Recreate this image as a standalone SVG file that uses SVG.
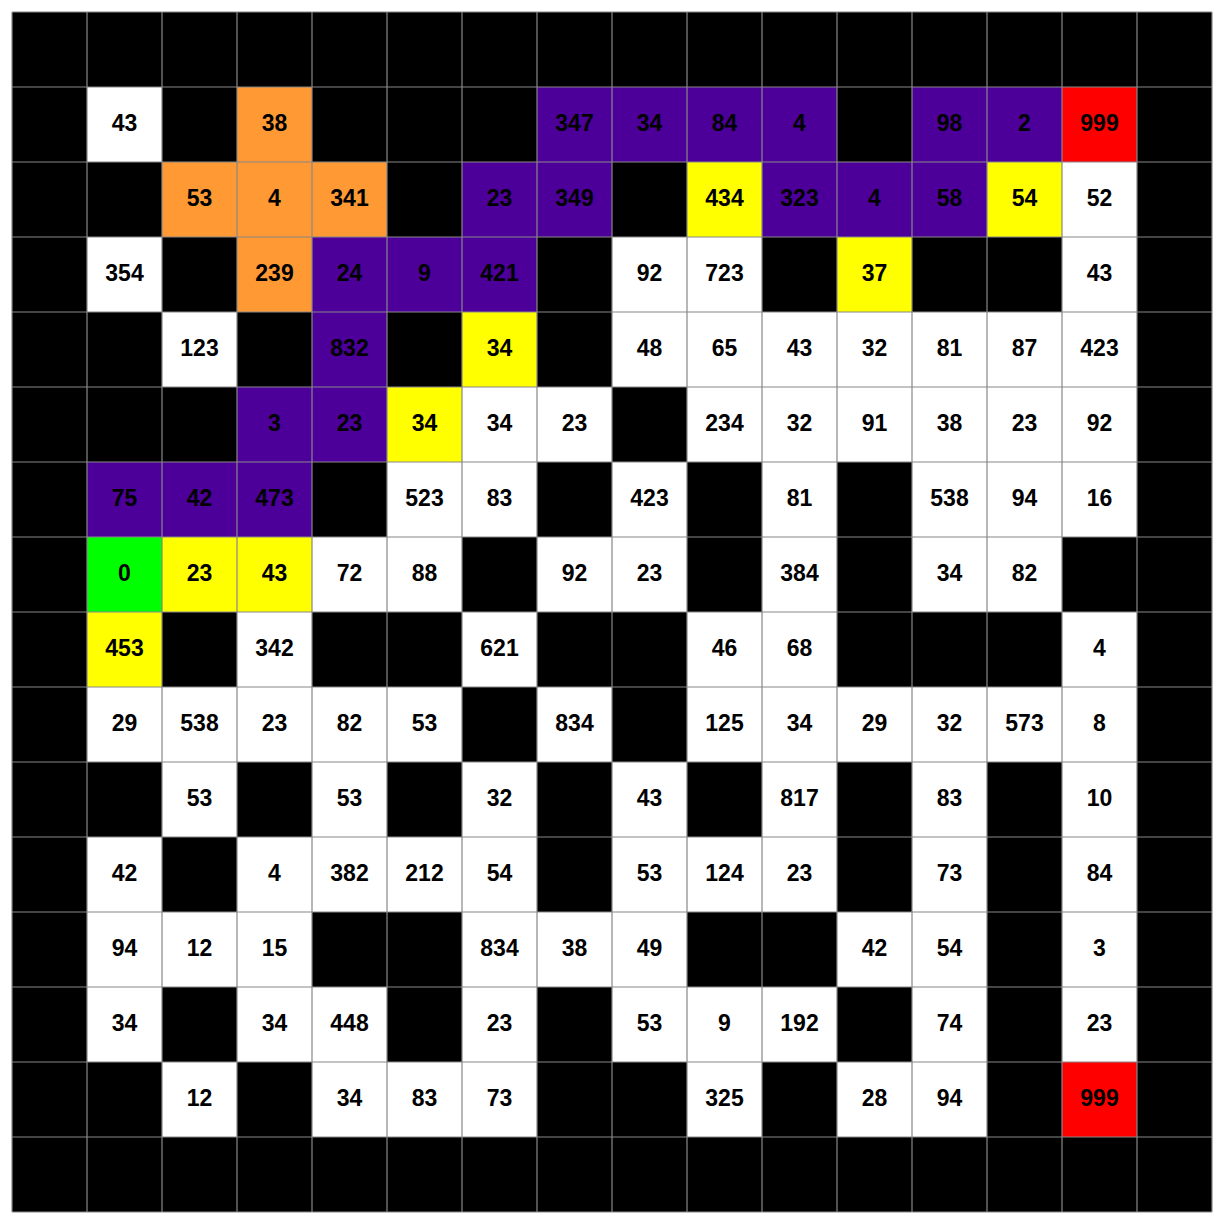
<svg xmlns="http://www.w3.org/2000/svg" width="1219" height="1219" viewBox="0 0 1219 1219">
<style>
rect{stroke:none}
.w{fill:#ffffff}.o{fill:#ff9933}.p{fill:#4c0099}.y{fill:#ffff00}.g{fill:#00ff00}.r{fill:#ff0000}
text{font-family:"Liberation Sans",Arial,sans-serif;font-weight:bold;font-size:23px;fill:#000;text-anchor:middle}
.grid{stroke:#888888;stroke-width:1.2;fill:none}
</style>
<defs><rect id="c" width="75" height="75"/></defs>
<rect x="0" y="0" width="1219" height="1219" fill="#ffffff"/>
<rect x="12" y="12" width="1200" height="1200" fill="#000000"/>
<g id="cells">
<g id="r1c1" transform="translate(87,87)"><use href="#c" class="w"/><text x="37.5" y="44">43</text></g>
<g id="r1c3" transform="translate(237,87)"><use href="#c" class="o"/><text x="37.5" y="44">38</text></g>
<g id="r1c7" transform="translate(537,87)"><use href="#c" class="p"/><text x="37.5" y="44">347</text></g>
<g id="r1c8" transform="translate(612,87)"><use href="#c" class="p"/><text x="37.5" y="44">34</text></g>
<g id="r1c9" transform="translate(687,87)"><use href="#c" class="p"/><text x="37.5" y="44">84</text></g>
<g id="r1c10" transform="translate(762,87)"><use href="#c" class="p"/><text x="37.5" y="44">4</text></g>
<g id="r1c12" transform="translate(912,87)"><use href="#c" class="p"/><text x="37.5" y="44">98</text></g>
<g id="r1c13" transform="translate(987,87)"><use href="#c" class="p"/><text x="37.5" y="44">2</text></g>
<g id="r1c14" transform="translate(1062,87)"><use href="#c" class="r"/><text x="37.5" y="44">999</text></g>

<g id="r2c2" transform="translate(162,162)"><use href="#c" class="o"/><text x="37.5" y="44">53</text></g>
<g id="r2c3" transform="translate(237,162)"><use href="#c" class="o"/><text x="37.5" y="44">4</text></g>
<g id="r2c4" transform="translate(312,162)"><use href="#c" class="o"/><text x="37.5" y="44">341</text></g>
<g id="r2c6" transform="translate(462,162)"><use href="#c" class="p"/><text x="37.5" y="44">23</text></g>
<g id="r2c7" transform="translate(537,162)"><use href="#c" class="p"/><text x="37.5" y="44">349</text></g>
<g id="r2c9" transform="translate(687,162)"><use href="#c" class="y"/><text x="37.5" y="44">434</text></g>
<g id="r2c10" transform="translate(762,162)"><use href="#c" class="p"/><text x="37.5" y="44">323</text></g>
<g id="r2c11" transform="translate(837,162)"><use href="#c" class="p"/><text x="37.5" y="44">4</text></g>
<g id="r2c12" transform="translate(912,162)"><use href="#c" class="p"/><text x="37.5" y="44">58</text></g>
<g id="r2c13" transform="translate(987,162)"><use href="#c" class="y"/><text x="37.5" y="44">54</text></g>
<g id="r2c14" transform="translate(1062,162)"><use href="#c" class="w"/><text x="37.5" y="44">52</text></g>

<g id="r3c1" transform="translate(87,237)"><use href="#c" class="w"/><text x="37.5" y="44">354</text></g>
<g id="r3c3" transform="translate(237,237)"><use href="#c" class="o"/><text x="37.5" y="44">239</text></g>
<g id="r3c4" transform="translate(312,237)"><use href="#c" class="p"/><text x="37.5" y="44">24</text></g>
<g id="r3c5" transform="translate(387,237)"><use href="#c" class="p"/><text x="37.5" y="44">9</text></g>
<g id="r3c6" transform="translate(462,237)"><use href="#c" class="p"/><text x="37.5" y="44">421</text></g>
<g id="r3c8" transform="translate(612,237)"><use href="#c" class="w"/><text x="37.5" y="44">92</text></g>
<g id="r3c9" transform="translate(687,237)"><use href="#c" class="w"/><text x="37.5" y="44">723</text></g>
<g id="r3c11" transform="translate(837,237)"><use href="#c" class="y"/><text x="37.5" y="44">37</text></g>
<g id="r3c14" transform="translate(1062,237)"><use href="#c" class="w"/><text x="37.5" y="44">43</text></g>

<g id="r4c2" transform="translate(162,312)"><use href="#c" class="w"/><text x="37.5" y="44">123</text></g>
<g id="r4c4" transform="translate(312,312)"><use href="#c" class="p"/><text x="37.5" y="44">832</text></g>
<g id="r4c6" transform="translate(462,312)"><use href="#c" class="y"/><text x="37.5" y="44">34</text></g>
<g id="r4c8" transform="translate(612,312)"><use href="#c" class="w"/><text x="37.5" y="44">48</text></g>
<g id="r4c9" transform="translate(687,312)"><use href="#c" class="w"/><text x="37.5" y="44">65</text></g>
<g id="r4c10" transform="translate(762,312)"><use href="#c" class="w"/><text x="37.5" y="44">43</text></g>
<g id="r4c11" transform="translate(837,312)"><use href="#c" class="w"/><text x="37.5" y="44">32</text></g>
<g id="r4c12" transform="translate(912,312)"><use href="#c" class="w"/><text x="37.5" y="44">81</text></g>
<g id="r4c13" transform="translate(987,312)"><use href="#c" class="w"/><text x="37.5" y="44">87</text></g>
<g id="r4c14" transform="translate(1062,312)"><use href="#c" class="w"/><text x="37.5" y="44">423</text></g>

<g id="r5c3" transform="translate(237,387)"><use href="#c" class="p"/><text x="37.5" y="44">3</text></g>
<g id="r5c4" transform="translate(312,387)"><use href="#c" class="p"/><text x="37.5" y="44">23</text></g>
<g id="r5c5" transform="translate(387,387)"><use href="#c" class="y"/><text x="37.5" y="44">34</text></g>
<g id="r5c6" transform="translate(462,387)"><use href="#c" class="w"/><text x="37.5" y="44">34</text></g>
<g id="r5c7" transform="translate(537,387)"><use href="#c" class="w"/><text x="37.5" y="44">23</text></g>
<g id="r5c9" transform="translate(687,387)"><use href="#c" class="w"/><text x="37.5" y="44">234</text></g>
<g id="r5c10" transform="translate(762,387)"><use href="#c" class="w"/><text x="37.5" y="44">32</text></g>
<g id="r5c11" transform="translate(837,387)"><use href="#c" class="w"/><text x="37.5" y="44">91</text></g>
<g id="r5c12" transform="translate(912,387)"><use href="#c" class="w"/><text x="37.5" y="44">38</text></g>
<g id="r5c13" transform="translate(987,387)"><use href="#c" class="w"/><text x="37.5" y="44">23</text></g>
<g id="r5c14" transform="translate(1062,387)"><use href="#c" class="w"/><text x="37.5" y="44">92</text></g>

<g id="r6c1" transform="translate(87,462)"><use href="#c" class="p"/><text x="37.5" y="44">75</text></g>
<g id="r6c2" transform="translate(162,462)"><use href="#c" class="p"/><text x="37.5" y="44">42</text></g>
<g id="r6c3" transform="translate(237,462)"><use href="#c" class="p"/><text x="37.5" y="44">473</text></g>
<g id="r6c5" transform="translate(387,462)"><use href="#c" class="w"/><text x="37.5" y="44">523</text></g>
<g id="r6c6" transform="translate(462,462)"><use href="#c" class="w"/><text x="37.5" y="44">83</text></g>
<g id="r6c8" transform="translate(612,462)"><use href="#c" class="w"/><text x="37.5" y="44">423</text></g>
<g id="r6c10" transform="translate(762,462)"><use href="#c" class="w"/><text x="37.5" y="44">81</text></g>
<g id="r6c12" transform="translate(912,462)"><use href="#c" class="w"/><text x="37.5" y="44">538</text></g>
<g id="r6c13" transform="translate(987,462)"><use href="#c" class="w"/><text x="37.5" y="44">94</text></g>
<g id="r6c14" transform="translate(1062,462)"><use href="#c" class="w"/><text x="37.5" y="44">16</text></g>

<g id="r7c1" transform="translate(87,537)"><use href="#c" class="g"/><text x="37.5" y="44">0</text></g>
<g id="r7c2" transform="translate(162,537)"><use href="#c" class="y"/><text x="37.5" y="44">23</text></g>
<g id="r7c3" transform="translate(237,537)"><use href="#c" class="y"/><text x="37.5" y="44">43</text></g>
<g id="r7c4" transform="translate(312,537)"><use href="#c" class="w"/><text x="37.5" y="44">72</text></g>
<g id="r7c5" transform="translate(387,537)"><use href="#c" class="w"/><text x="37.5" y="44">88</text></g>
<g id="r7c7" transform="translate(537,537)"><use href="#c" class="w"/><text x="37.5" y="44">92</text></g>
<g id="r7c8" transform="translate(612,537)"><use href="#c" class="w"/><text x="37.5" y="44">23</text></g>
<g id="r7c10" transform="translate(762,537)"><use href="#c" class="w"/><text x="37.5" y="44">384</text></g>
<g id="r7c12" transform="translate(912,537)"><use href="#c" class="w"/><text x="37.5" y="44">34</text></g>
<g id="r7c13" transform="translate(987,537)"><use href="#c" class="w"/><text x="37.5" y="44">82</text></g>

<g id="r8c1" transform="translate(87,612)"><use href="#c" class="y"/><text x="37.5" y="44">453</text></g>
<g id="r8c3" transform="translate(237,612)"><use href="#c" class="w"/><text x="37.5" y="44">342</text></g>
<g id="r8c6" transform="translate(462,612)"><use href="#c" class="w"/><text x="37.5" y="44">621</text></g>
<g id="r8c9" transform="translate(687,612)"><use href="#c" class="w"/><text x="37.5" y="44">46</text></g>
<g id="r8c10" transform="translate(762,612)"><use href="#c" class="w"/><text x="37.5" y="44">68</text></g>
<g id="r8c14" transform="translate(1062,612)"><use href="#c" class="w"/><text x="37.5" y="44">4</text></g>

<g id="r9c1" transform="translate(87,687)"><use href="#c" class="w"/><text x="37.5" y="44">29</text></g>
<g id="r9c2" transform="translate(162,687)"><use href="#c" class="w"/><text x="37.5" y="44">538</text></g>
<g id="r9c3" transform="translate(237,687)"><use href="#c" class="w"/><text x="37.5" y="44">23</text></g>
<g id="r9c4" transform="translate(312,687)"><use href="#c" class="w"/><text x="37.5" y="44">82</text></g>
<g id="r9c5" transform="translate(387,687)"><use href="#c" class="w"/><text x="37.5" y="44">53</text></g>
<g id="r9c7" transform="translate(537,687)"><use href="#c" class="w"/><text x="37.5" y="44">834</text></g>
<g id="r9c9" transform="translate(687,687)"><use href="#c" class="w"/><text x="37.5" y="44">125</text></g>
<g id="r9c10" transform="translate(762,687)"><use href="#c" class="w"/><text x="37.5" y="44">34</text></g>
<g id="r9c11" transform="translate(837,687)"><use href="#c" class="w"/><text x="37.5" y="44">29</text></g>
<g id="r9c12" transform="translate(912,687)"><use href="#c" class="w"/><text x="37.5" y="44">32</text></g>
<g id="r9c13" transform="translate(987,687)"><use href="#c" class="w"/><text x="37.5" y="44">573</text></g>
<g id="r9c14" transform="translate(1062,687)"><use href="#c" class="w"/><text x="37.5" y="44">8</text></g>

<g id="r10c2" transform="translate(162,762)"><use href="#c" class="w"/><text x="37.5" y="44">53</text></g>
<g id="r10c4" transform="translate(312,762)"><use href="#c" class="w"/><text x="37.5" y="44">53</text></g>
<g id="r10c6" transform="translate(462,762)"><use href="#c" class="w"/><text x="37.5" y="44">32</text></g>
<g id="r10c8" transform="translate(612,762)"><use href="#c" class="w"/><text x="37.5" y="44">43</text></g>
<g id="r10c10" transform="translate(762,762)"><use href="#c" class="w"/><text x="37.5" y="44">817</text></g>
<g id="r10c12" transform="translate(912,762)"><use href="#c" class="w"/><text x="37.5" y="44">83</text></g>
<g id="r10c14" transform="translate(1062,762)"><use href="#c" class="w"/><text x="37.5" y="44">10</text></g>

<g id="r11c1" transform="translate(87,837)"><use href="#c" class="w"/><text x="37.5" y="44">42</text></g>
<g id="r11c3" transform="translate(237,837)"><use href="#c" class="w"/><text x="37.5" y="44">4</text></g>
<g id="r11c4" transform="translate(312,837)"><use href="#c" class="w"/><text x="37.5" y="44">382</text></g>
<g id="r11c5" transform="translate(387,837)"><use href="#c" class="w"/><text x="37.5" y="44">212</text></g>
<g id="r11c6" transform="translate(462,837)"><use href="#c" class="w"/><text x="37.5" y="44">54</text></g>
<g id="r11c8" transform="translate(612,837)"><use href="#c" class="w"/><text x="37.5" y="44">53</text></g>
<g id="r11c9" transform="translate(687,837)"><use href="#c" class="w"/><text x="37.5" y="44">124</text></g>
<g id="r11c10" transform="translate(762,837)"><use href="#c" class="w"/><text x="37.5" y="44">23</text></g>
<g id="r11c12" transform="translate(912,837)"><use href="#c" class="w"/><text x="37.5" y="44">73</text></g>
<g id="r11c14" transform="translate(1062,837)"><use href="#c" class="w"/><text x="37.5" y="44">84</text></g>

<g id="r12c1" transform="translate(87,912)"><use href="#c" class="w"/><text x="37.5" y="44">94</text></g>
<g id="r12c2" transform="translate(162,912)"><use href="#c" class="w"/><text x="37.5" y="44">12</text></g>
<g id="r12c3" transform="translate(237,912)"><use href="#c" class="w"/><text x="37.5" y="44">15</text></g>
<g id="r12c6" transform="translate(462,912)"><use href="#c" class="w"/><text x="37.5" y="44">834</text></g>
<g id="r12c7" transform="translate(537,912)"><use href="#c" class="w"/><text x="37.5" y="44">38</text></g>
<g id="r12c8" transform="translate(612,912)"><use href="#c" class="w"/><text x="37.5" y="44">49</text></g>
<g id="r12c11" transform="translate(837,912)"><use href="#c" class="w"/><text x="37.5" y="44">42</text></g>
<g id="r12c12" transform="translate(912,912)"><use href="#c" class="w"/><text x="37.5" y="44">54</text></g>
<g id="r12c14" transform="translate(1062,912)"><use href="#c" class="w"/><text x="37.5" y="44">3</text></g>

<g id="r13c1" transform="translate(87,987)"><use href="#c" class="w"/><text x="37.5" y="44">34</text></g>
<g id="r13c3" transform="translate(237,987)"><use href="#c" class="w"/><text x="37.5" y="44">34</text></g>
<g id="r13c4" transform="translate(312,987)"><use href="#c" class="w"/><text x="37.5" y="44">448</text></g>
<g id="r13c6" transform="translate(462,987)"><use href="#c" class="w"/><text x="37.5" y="44">23</text></g>
<g id="r13c8" transform="translate(612,987)"><use href="#c" class="w"/><text x="37.5" y="44">53</text></g>
<g id="r13c9" transform="translate(687,987)"><use href="#c" class="w"/><text x="37.5" y="44">9</text></g>
<g id="r13c10" transform="translate(762,987)"><use href="#c" class="w"/><text x="37.5" y="44">192</text></g>
<g id="r13c12" transform="translate(912,987)"><use href="#c" class="w"/><text x="37.5" y="44">74</text></g>
<g id="r13c14" transform="translate(1062,987)"><use href="#c" class="w"/><text x="37.5" y="44">23</text></g>

<g id="r14c2" transform="translate(162,1062)"><use href="#c" class="w"/><text x="37.5" y="44">12</text></g>
<g id="r14c4" transform="translate(312,1062)"><use href="#c" class="w"/><text x="37.5" y="44">34</text></g>
<g id="r14c5" transform="translate(387,1062)"><use href="#c" class="w"/><text x="37.5" y="44">83</text></g>
<g id="r14c6" transform="translate(462,1062)"><use href="#c" class="w"/><text x="37.5" y="44">73</text></g>
<g id="r14c9" transform="translate(687,1062)"><use href="#c" class="w"/><text x="37.5" y="44">325</text></g>
<g id="r14c11" transform="translate(837,1062)"><use href="#c" class="w"/><text x="37.5" y="44">28</text></g>
<g id="r14c12" transform="translate(912,1062)"><use href="#c" class="w"/><text x="37.5" y="44">94</text></g>
<g id="r14c14" transform="translate(1062,1062)"><use href="#c" class="r"/><text x="37.5" y="44">999</text></g>
</g>
<g id="gridlines">
<path class="grid" d="M12 12V1212M87 12V1212M162 12V1212M237 12V1212M312 12V1212M387 12V1212M462 12V1212M537 12V1212M612 12V1212M687 12V1212M762 12V1212M837 12V1212M912 12V1212M987 12V1212M1062 12V1212M1137 12V1212M1212 12V1212M12 12H1212M12 87H1212M12 162H1212M12 237H1212M12 312H1212M12 387H1212M12 462H1212M12 537H1212M12 612H1212M12 687H1212M12 762H1212M12 837H1212M12 912H1212M12 987H1212M12 1062H1212M12 1137H1212M12 1212H1212"/>
</g>
</svg>
